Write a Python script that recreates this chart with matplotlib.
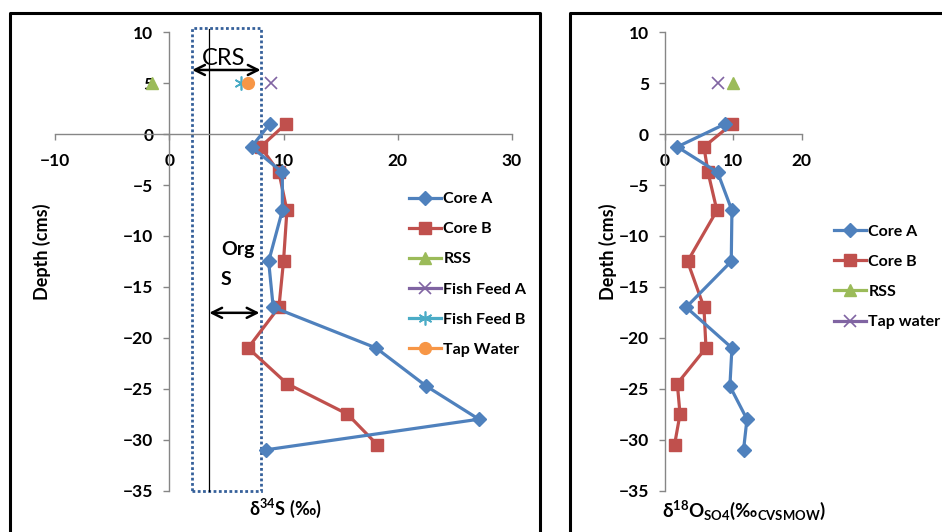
import matplotlib
matplotlib.use('Agg')
import matplotlib.pyplot as plt
from matplotlib.lines import Line2D
from matplotlib.patches import Rectangle

plt.rcParams['font.family'] = ['Lato', 'DejaVu Sans']
plt.rcParams['mathtext.fontset'] = 'custom'
plt.rcParams['mathtext.rm'] = 'Lato:bold'
plt.rcParams['mathtext.bf'] = 'Lato:bold'
plt.rcParams['mathtext.it'] = 'Lato:bold'

# depths (cm) of the core samples
depth_a = [1, -1.25, -3.75, -7.5, -12.5, -17, -21, -24.75, -28, -31]
depth_b = [1, -1.25, -3.75, -7.5, -12.5, -17, -21, -24.5, -27.5, -30.5]

# d34S of sulfate (permil)
d34s_a = [8.8, 7.2, 9.9, 9.9, 8.7, 9.1, 18.1, 22.5, 27.1, 8.5]
d34s_b = [10.2, 8.0, 9.6, 10.3, 10.0, 9.6, 6.9, 10.3, 15.6, 18.2]

# d18O of sulfate (permil VSMOW)
d18o_a = [8.8, 1.8, 7.7, 9.8, 9.7, 3.1, 9.8, 9.5, 12.0, 11.5]
d18o_b = [9.8, 5.7, 6.3, 7.6, 3.3, 5.7, 6.0, 1.8, 2.2, 1.4]

# source end members, plotted at depth 5
source_depth = 5
rss_d34s, ffa_d34s, ffb_d34s, tap_d34s = -1.5, 8.9, 6.3, 6.9
rss_d18o, tap_d18o = 10.0, 7.7

# CRS / organic S ranges
crs_range = (2.0, 8.0)
org_s_start = 3.5

W, H = 942, 532
fig = plt.figure(figsize=(W / 100, H / 100), dpi=100)

def fx(px):
    return px / W

def fy(py):
    return 1 - py / H

blue, red, green = '#4F81BD', '#C0504D', '#9BBB59'
purple, cyan, orange = '#8064A2', '#4BACC6', '#F79646'
spine_col = '#868686'
fs = 12.5

def style_axes(ax, xticks, yticks):
    for s in ['top', 'right']:
        ax.spines[s].set_visible(False)
    ax.spines['left'].set_position(('data', 0))
    ax.spines['bottom'].set_position(('data', 0))
    for s in ['left', 'bottom']:
        ax.spines[s].set_color(spine_col)
        ax.spines[s].set_linewidth(1.0)
    ax.set_xticks(xticks)
    ax.set_yticks(yticks)
    ax.tick_params(axis='both', colors=spine_col, length=4.5, width=1.0,
                   labelcolor='black', labelsize=fs)
    ax.tick_params(axis='x', pad=9)
    ax.tick_params(axis='y', pad=7)
    for lab in ax.get_xticklabels() + ax.get_yticklabels():
        lab.set_fontweight('bold')
    ax.patch.set_visible(False)

y0, y1 = fy(490.5), fy(32.3)
leg_kw = dict(frameon=False, prop={'weight': 'bold', 'size': 11.5}, handlelength=2.0,
              handletextpad=0.15, labelspacing=1.0, borderaxespad=0, borderpad=0)

# ---- left panel: d34S
ax1 = fig.add_axes([fx(55), y0, fx(512) - fx(55), y1 - y0])
ax1.set_xlim(-10, 30)
ax1.set_ylim(-35, 10)
style_axes(ax1, [-10, 0, 10, 20, 30], range(-35, 11, 5))

ax1.add_patch(Rectangle((crs_range[0], -35), crs_range[1] - crs_range[0], 45.4,
                        fill=False, ec='#35609A', lw=2.0,
                        linestyle=(0, (1, 0.9)), clip_on=False, zorder=1))
ax1.plot([org_s_start, org_s_start], [-35, 10.3], color='black', lw=0.9,
         clip_on=False, zorder=1)

ax1.plot(d34s_a, depth_a, color=blue, lw=2.3, marker='D', ms=6.8, label='Core A', zorder=4)
ax1.plot(d34s_b, depth_b, color=red, lw=2.3, marker='s', ms=8, label='Core B', zorder=3)
ax1.plot([rss_d34s], [source_depth], color=green, lw=2.3, marker='^', ms=8.5,
         label='RSS', zorder=5)
ax1.plot([ffa_d34s], [source_depth], color=purple, lw=2.3, marker='x', ms=8.5,
         mew=1.2, label='Fish Feed A', zorder=5)
ax1.plot([ffb_d34s], [source_depth], color=cyan, lw=2.3, marker=(6, 2, 0), ms=10,
         mew=1.2, label='Fish Feed B', zorder=5)
ax1.plot([tap_d34s], [source_depth], color=orange, lw=2.3, marker='o', ms=8.5,
         label='Tap Water', zorder=6)

arrow = dict(arrowstyle='<->', lw=1.8, color='black', mutation_scale=18,
             shrinkA=0, shrinkB=0)
ax1.annotate('', xy=(crs_range[0], 6.3), xytext=(crs_range[1], 6.3), arrowprops=arrow)
ax1.annotate('', xy=(org_s_start, -17.55), xytext=(crs_range[1] - 0.1, -17.55),
             arrowprops=arrow)
ax1.text(4.8, 7.4, 'CRS', fontsize=17, ha='center', va='center')
ax1.text(6.0, -11.3, 'Org', fontsize=14, fontweight='bold', ha='center', va='center')
ax1.text(5.0, -14.3, 'S', fontsize=14, fontweight='bold', ha='center', va='center')

ax1.legend(loc='upper left', bbox_to_anchor=(fx(409), fy(192)),
           bbox_transform=fig.transFigure, **leg_kw)

fig.text(fx(285), fy(508), r'$\mathrm{\delta^{34}S\ (‰)}$', fontsize=13,
         ha='center', va='center')
fig.text(fx(42), fy(252), 'Depth (cms)', fontsize=13, fontweight='bold',
         rotation=90, ha='center', va='center')

# ---- right panel: d18O
ax2 = fig.add_axes([fx(665), y0, fx(801.6) - fx(665), y1 - y0])
ax2.set_xlim(0, 20)
ax2.set_ylim(-35, 10)
style_axes(ax2, [0, 10, 20], range(-35, 11, 5))

ax2.plot(d18o_a, depth_a, color=blue, lw=2.3, marker='D', ms=6.8, label='Core A', zorder=4)
ax2.plot(d18o_b, depth_b, color=red, lw=2.3, marker='s', ms=8, label='Core B', zorder=3)
ax2.plot([rss_d18o], [source_depth], color=green, lw=2.3, marker='^', ms=8.5,
         label='RSS', zorder=5)
ax2.plot([tap_d18o], [source_depth], color=purple, lw=2.3, marker='x', ms=8.5,
         mew=1.2, label='Tap water', zorder=5)

ax2.legend(loc='upper left', bbox_to_anchor=(fx(834), fy(224.5)),
           bbox_transform=fig.transFigure, **leg_kw)

fig.text(fx(744), fy(510), r'$\mathrm{\delta^{18}O_{SO4}(‰_{CVSMOW})}$', fontsize=13.5,
         ha='center', va='center')
fig.text(fx(608), fy(252), 'Depth (cms)', fontsize=13, fontweight='bold',
         rotation=90, ha='center', va='center')

# chart frames
frame = dict(color='black', lw=2.2, transform=fig.transFigure, solid_capstyle='projecting')
fig.add_artist(Line2D([fx(9.7), fx(9.7), fx(539.7), fx(539.7)],
                      [0, fy(12.8), fy(12.8), 0], **frame))
fig.add_artist(Line2D([fx(569.5), fx(569.5), 1.0],
                      [0, fy(12.8), fy(12.8)], **frame))

fig.savefig('out.png', dpi=100)
